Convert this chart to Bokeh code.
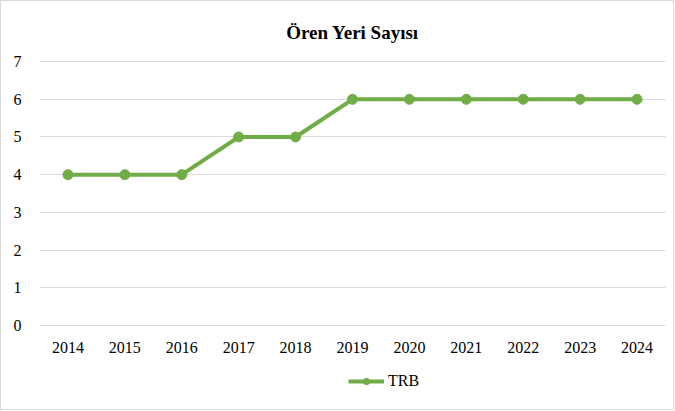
from bokeh.plotting import figure
from bokeh.models import Legend, FactorRange
from bokeh.layouts import column
from bokeh.embed import file_html
from bokeh.resources import INLINE

years = ["2014", "2015", "2016", "2017", "2018", "2019", "2020", "2021", "2022", "2023", "2024"]
trb = [4, 4, 4, 5, 5, 6, 6, 6, 6, 6, 6]
series_name = "TRB"
title_text = "Ören Yeri Sayısı"

green = "#70ad47"
serif = "Liberation Serif"

p = figure(width=672, height=362, x_range=FactorRange(*years), y_range=(-0.03, 7.03),
           output_backend="svg", toolbar_location=None,
           min_border_left=38, min_border_right=8, min_border_top=59, min_border_bottom=37)

p.title.text = title_text
p.title.align = "center"
p.title.text_font = serif
p.title.text_font_size = "19px"
p.title.text_font_style = "bold"
p.title.text_color = "#000000"
p.title.standoff = 35

r_line = p.line(years, trb, line_color=green, line_width=4)
r_pts = p.scatter(years, trb, size=10, fill_color=green, line_color=green)

for ax in (p.xaxis[0], p.yaxis[0]):
    ax.axis_line_color = None
    ax.major_tick_line_color = None
    ax.minor_tick_line_color = None
    ax.major_tick_out = 0
    ax.minor_tick_out = 0
    ax.major_label_text_font = serif
    ax.major_label_text_font_size = "16px"
    ax.major_label_text_color = "#000000"

p.yaxis.ticker = list(range(0, 8))
p.yaxis.major_label_standoff = 18
p.xaxis.major_label_standoff = 15

p.xgrid.grid_line_color = None
p.ygrid.grid_line_color = "#d9d9d9"
p.ygrid.grid_line_width = 1
p.outline_line_color = None
p.x_range.range_padding = 0

# Legend strip below the chart (legend glyph renderers sit outside the visible range)
legend_x = [-10, -9]
legend_y = [-10, -10]
p2 = figure(width=672, height=46, output_backend="svg", toolbar_location=None,
            min_border=0, x_range=(0, 1), y_range=(0, 1))
l_line = p2.line(x=legend_x, y=legend_y, line_color=green, line_width=4)
l_pts = p2.scatter(x=legend_x, y=legend_y, size=10, fill_color=green, line_color=green)
legend = Legend(items=[(series_name, [l_line, l_pts])], orientation="horizontal",
                location=(309, 19), border_line_color=None, background_fill_alpha=0,
                label_text_font=serif, label_text_font_size="16px", label_text_color="#000000",
                glyph_width=36, glyph_height=16, label_height=16,
                padding=0, margin=0, spacing=0, label_standoff=4)
p2.add_layout(legend, "center")
p2.axis.visible = False
p2.grid.grid_line_color = None
p2.outline_line_color = None

layout = column(p, p2, spacing=0, styles={"border": "1px solid #d9d9d9"})

open("out.html", "w").write(file_html(layout, INLINE))
